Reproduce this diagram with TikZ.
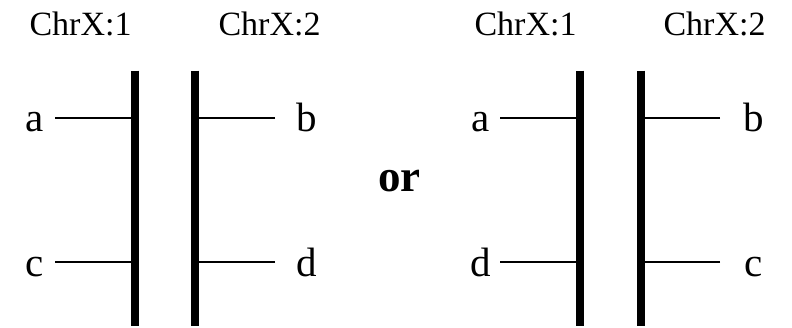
\documentclass[tikz,border=0pt]{standalone}
\usepackage{fontspec}
\setmainfont{Liberation Serif}
\begin{document}
\begin{tikzpicture}[x=1pt,y=-1pt,
  chr/.style={font=\fontsize{34}{40}\selectfont, anchor=base, inner sep=0pt},
  lab/.style={font=\fontsize{41}{48}\selectfont, anchor=base, inner sep=0pt},
  bar/.style={line width=8pt},
  link/.style={line width=1.4pt}]
\useasboundingbox (0,0) rectangle (792,328);
% left configuration
\node[chr] (h1) at (80.5,36) {ChrX:1};
\node[chr] (h2) at (269.5,36) {ChrX:2};
\coordinate (b1t) at (135,70.7); \coordinate (b1b) at (135,326);
\coordinate (b2t) at (195,70.7); \coordinate (b2b) at (195,326);
\draw[bar] (b1t) -- (b1b);
\draw[bar] (b2t) -- (b2b);
\node[lab] (la) at (35,132) {a};
\node[lab] (lc) at (35,277) {c};
\node[lab] (lb) at (307,132) {b};
\node[lab] (ld) at (307,277) {d};
\coordinate (ea) at (55,118); \coordinate (ec) at (55,262);
\coordinate (eb) at (275,118); \coordinate (ed) at (275,262);
\draw[link] (ea) -- (ea -| b1t);
\draw[link] (ec) -- (ec -| b1t);
\draw[link] (eb) -- (eb -| b2t);
\draw[link] (ed) -- (ed -| b2t);
% or
\node[font=\fontsize{45}{52}\selectfont\bfseries, anchor=base, inner sep=0pt] (or) at (399.5,192) {or};
% right configuration
\node[chr] (h3) at (525.5,36) {ChrX:1};
\node[chr] (h4) at (714.5,36) {ChrX:2};
\coordinate (b3t) at (580,70.7); \coordinate (b3b) at (580,326);
\coordinate (b4t) at (641,70.7); \coordinate (b4b) at (641,326);
\draw[bar] (b3t) -- (b3b);
\draw[bar] (b4t) -- (b4b);
\node[lab] (ra) at (480.5,132) {a};
\node[lab] (rd) at (480.5,277) {d};
\node[lab] (rb) at (753.5,132) {b};
\node[lab] (rc) at (753.5,277) {c};
\coordinate (fa) at (500,118); \coordinate (fd) at (500,262);
\coordinate (fb) at (720,118); \coordinate (fc) at (720,262);
\draw[link] (fa) -- (fa -| b3t);
\draw[link] (fd) -- (fd -| b3t);
\draw[link] (fb) -- (fb -| b4t);
\draw[link] (fc) -- (fc -| b4t);
\end{tikzpicture}
\end{document}
